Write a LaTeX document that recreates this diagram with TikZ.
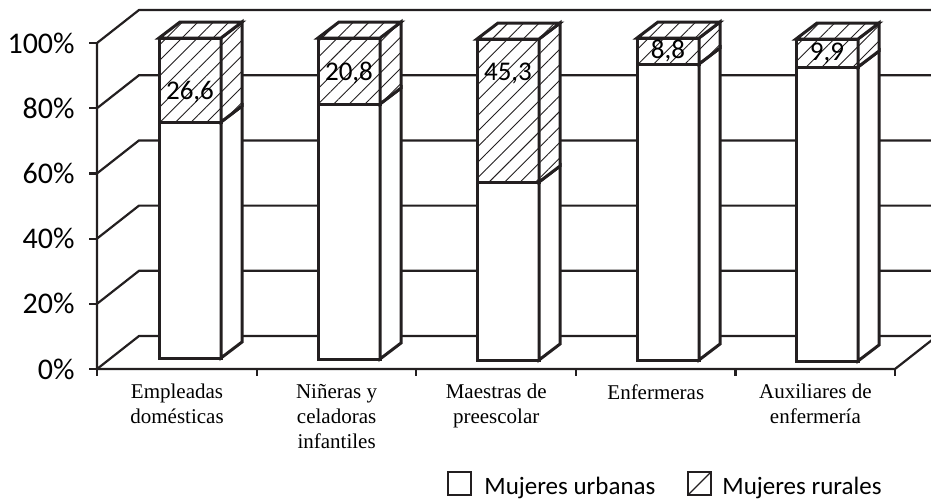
\documentclass[tikz,border=0pt]{standalone}
\usepackage{fontspec}
\setmainfont{Liberation Serif}
\newfontfamily\calibri{Carlito}
\usetikzlibrary{patterns.meta}
\definecolor{tinta}{HTML}{231F20}

\begin{document}
\begin{tikzpicture}[x=0.5pt,y=-0.5pt,
	marco/.style={tinta,line width=1.1pt},
	caja/.style={tinta,line width=1.5pt},
	rayado/.style={preaction={fill=white},pattern={Lines[angle=45,distance=5.5pt,line width=0.45pt]},pattern color=tinta}]
	\useasboundingbox (0,0) rectangle (931,500);
	\clip (0,0) rectangle (931,500);
	% pared del fondo, escala y piso
	\foreach \k/\p in {0/0,1/20,2/40,3/60,4/80,5/100}{
		\draw[marco] (97,369-65.2*\k) -- ++(42,-33) -- (940,336-65.2*\k);
		\draw[marco] (89,369-65.2*\k) -- (97,369-65.2*\k);
		\node[anchor=east,inner sep=0pt,font=\calibri\fontsize{15}{18}\selectfont] (eje\k) at (75,369-65.2*\k) {\p\%};
	}
	\draw[marco] (97,43) -- (97,369) -- (895,369) -- ++(42,-33);
	\foreach \i in {0,...,5}
		\draw[marco] (97+159.6*\i,369) -- ++(0,7);
	% barras: urbanas abajo, rurales rayadas arriba
	\foreach \i/\xl/\t/\d/\b/\v/\ly in {1/159/38/122/358/26{,}6/99,2/318/38/104/359/20{,}8/80,3/477/39/182/360/45{,}3/80,4/637/38/64/360/8{,}8/58,5/796/39/67/361/9{,}9/60}{
		\draw[caja,fill=white] (\xl,\d) rectangle (\xl+62,\b);
		\draw[caja,fill=white] (\xl+62,\b) -- (\xl+83,\b-16) -- (\xl+83,\d-16) -- (\xl+62,\d) -- cycle;
		\draw[caja,rayado] (\xl,\t) rectangle (\xl+62,\d);
		\draw[caja,rayado] (\xl+62,\t) -- (\xl+83,\t-16) -- (\xl+83,\d-16) -- (\xl+62,\d) -- cycle;
		\draw[caja,rayado] (\xl,\t) -- (\xl+62,\t) -- (\xl+83,\t-16) -- (\xl+21,\t-16) -- cycle;
		\node[anchor=base,inner sep=0pt,font=\calibri\fontsize{13.5}{16}\selectfont] (val\i) at (\xl+31,\ly) {\v};
	}
	% categorias
	\foreach \i/\c in {0/Empleadas\\domésticas,1/Niñeras y\\celadoras\\infantiles,2/Maestras de\\preescolar,3/Enfermeras,4/Auxiliares de\\enfermería}
		\node[anchor=north,align=center,inner sep=0pt,font=\fontsize{10.5}{12.5}\selectfont] (cat\i) at (177+159.6*\i,384) {\c};
	% leyenda
	\draw[marco] (448,472) rectangle (471,495);
	\node[anchor=base west,inner sep=0pt,font=\calibri\fontsize{12.5}{15}\selectfont] (urbanas) at (484,494) {Mujeres urbanas};
	\draw[marco] (688,472) rectangle (711,495);
	\draw[tinta,line width=0.6pt] (688,495) -- (711,472);
	\node[anchor=base west,inner sep=0pt,font=\calibri\fontsize{12.5}{15}\selectfont] (rurales) at (722,494) {Mujeres rurales};
\end{tikzpicture}
\end{document}
